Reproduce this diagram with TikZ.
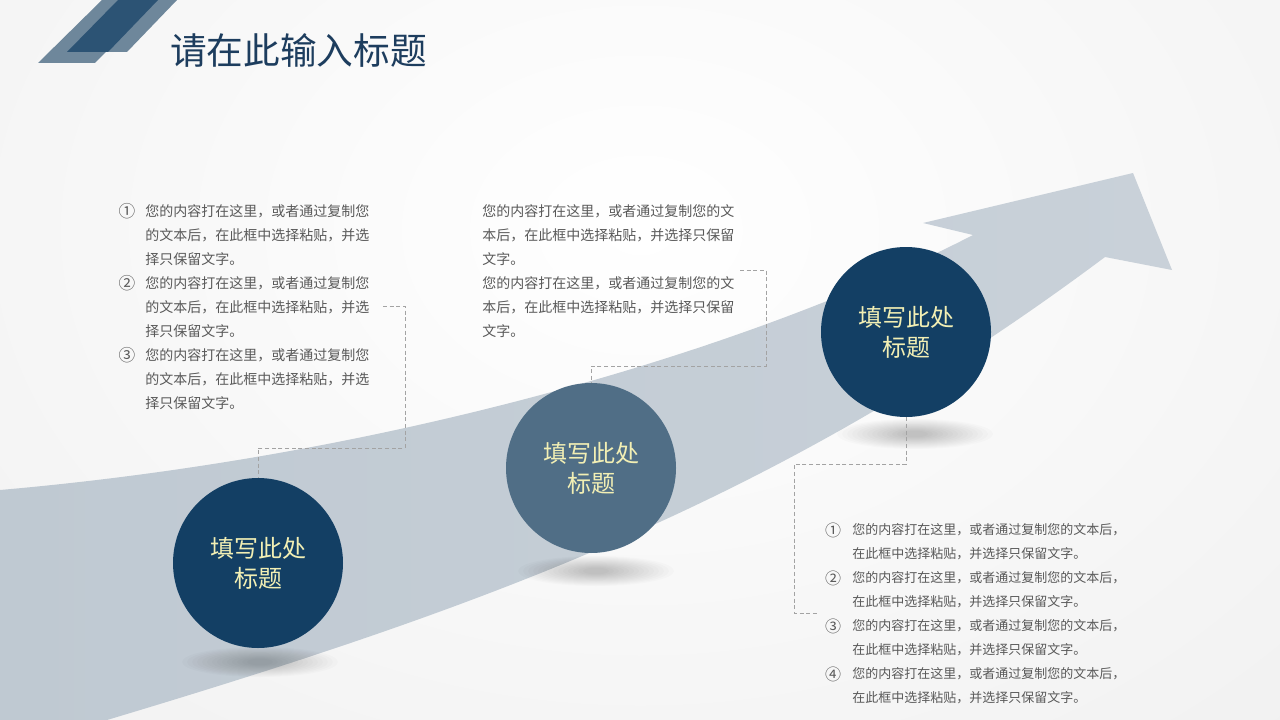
\documentclass[tikz,border=0pt]{standalone}
\usepackage{fontspec}
\newfontfamily\cjk{Noto Sans CJK SC}
\usepackage{xcolor}
\usetikzlibrary{positioning}
\definecolor{navy}{HTML}{133F64}
\definecolor{steel}{HTML}{506E86}
\definecolor{cream}{HTML}{F2EFB4}
\definecolor{titleblue}{HTML}{1D3D5E}
\definecolor{bodygray}{HTML}{595959}
\definecolor{linkgray}{HTML}{A3A3A3}
\definecolor{bgcol}{HTML}{E9E9E9}
\definecolor{bandL}{HTML}{BFC9D2}
\definecolor{bandR}{HTML}{C9D1D9}
\definecolor{decolight}{HTML}{6E879B}
\definecolor{decodark}{HTML}{2C5374}

\begin{document}
\begin{tikzpicture}[x=0.75pt,y=-0.75pt,
  every node/.style={font=\cjk,inner sep=0pt},
  stepcircle/.style={circle,minimum size=127.5pt,text=cream,align=center,
    font=\cjk\fontsize{18}{22.5}\selectfont},
  titletext/.style={anchor=west,text=titleblue,font=\cjk\fontsize{27.5}{30}\selectfont},
  bodytext/.style={anchor=west,align=left,text=bodygray,font=\cjk\fontsize{10.5}{18}\selectfont},
  numtext/.style={text=bodygray,font=\cjk\fontsize{12.5}{18}\selectfont},
  bodytext3/.style={bodytext,font=\cjk\fontsize{9.75}{18}\selectfont},
  numtext3/.style={numtext,font=\cjk\fontsize{12}{18}\selectfont},
  link/.style={draw=linkgray,dash pattern=on 3pt off 2pt,line width=0.6pt}
]
  \clip (0,0) rectangle (1280,720);
  % background
  \fill[bgcol] (0,0) rectangle (1280,720);
  \shade[inner color=white,outer color=bgcol] (640,230) ellipse (1500 and 1100);

  % title bar
  \fill[decolight] (38,63) -- (95,63) -- (158,0) -- (102,0) -- cycle;
  \fill[decolight] (67,52) -- (127,52) -- (177,0) -- (118,0) -- cycle;
  \fill[decodark] (67,52) -- (108,52) -- (158,0) -- (118,0) -- cycle;
  \node[titletext] (title) at (170,50) {请在此输入标题};

  % rising arrow
  \shade[left color=bandL,right color=bandR]
    (0,490) .. controls (400,455) and (760,345) .. (973,235)
    -- (923,223) -- (1133,173) -- (1172,270) -- (1105,257)
    .. controls (780,500) and (487,606) .. (107,720) -- (0,755) -- cycle;

  % shadows
  \foreach \sx/\sy in {260/662,596/571,915/434}
    \foreach \r in {0,...,13}
      \fill[black,opacity=0.014] (\sx,\sy) ellipse ({78-5*\r} and {15-0.9*\r});

  \node[stepcircle,fill=navy] (c1) at (258,563) {填写此处\\标题};
  \node[stepcircle,fill=steel] (c2) at (591,468) {填写此处\\标题};
  \node[stepcircle,fill=navy] (c3) at (906,332) {填写此处\\标题};

  \foreach \i/\sym in {1/①,2/②,3/③} {
    \node[numtext] (n1\i) at (127,{139+72*\i}) {\sym};
    \node[bodytext] (t1\i) at (145,{163+72*\i})
      {您的内容打在这里，或者通过复制您\\的文本后，在此框中选择粘贴，并选\\择只保留文字。};
  }

  \node[bodytext] (t2) at (482,271)
    {您的内容打在这里，或者通过复制您的文\\本后，在此框中选择粘贴，并选择只保留\\文字。\\
     您的内容打在这里，或者通过复制您的文\\本后，在此框中选择粘贴，并选择只保留\\文字。};

  \foreach \i/\sym in {1/①,2/②,3/③,4/④} {
    \node[numtext3] (n3\i) at (833,{482+48*\i}) {\sym};
    \node[bodytext3] (t3\i) at (852,{494+48*\i})
      {您的内容打在这里，或者通过复制您的文本后，\\在此框中选择粘贴，并选择只保留文字。};
  }

  \coordinate (e1) at (383,306);
  \coordinate (e2) at (740,270);
  \coordinate (e3) at (818,613);
  \draw[link] (e1) -- ++(22,0) -- ++(0,142) -| (c1.north);
  \draw[link] (e2) -- ++(26,0) -- ++(0,96) -| (c2.north);
  \draw[link] (c3.south) -- ++(0,47) -- ++(-112,0) |- (e3);
\end{tikzpicture}
\end{document}
